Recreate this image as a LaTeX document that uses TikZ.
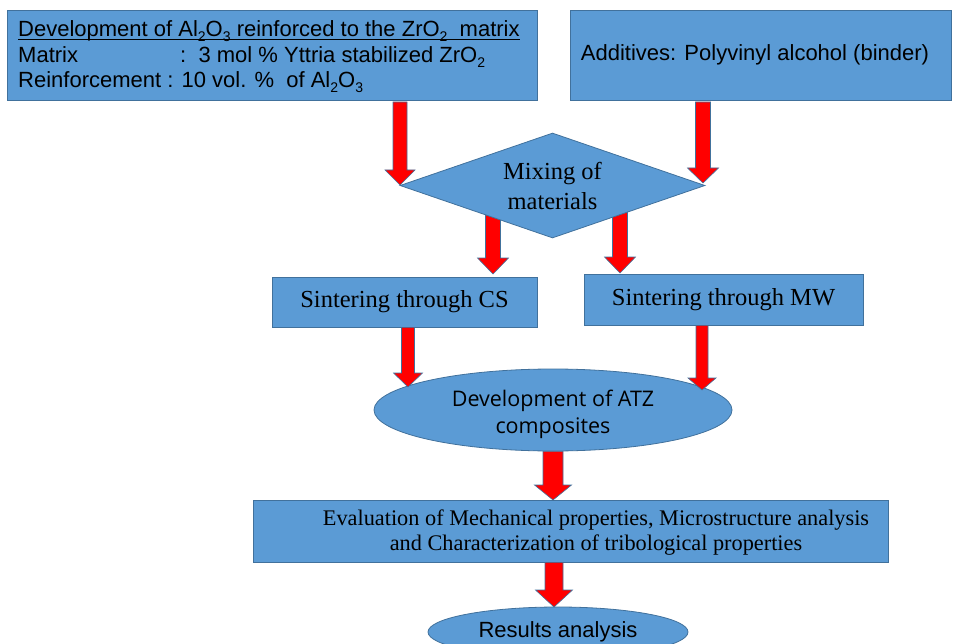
\documentclass[tikz,border=0pt]{standalone}
\usepackage{fontspec}
\setmainfont{Liberation Serif}
\newfontfamily\arialf{Liberation Sans}
\newfontfamily\osans{Open Sans}
\usetikzlibrary{shapes.geometric,calc}
\definecolor{boxblue}{HTML}{5B9BD5}
\definecolor{edgeblue}{HTML}{41719C}
\definecolor{arrred}{HTML}{FF0000}
\newcommand\sub[1]{\raisebox{-0.2em}{\fontsize{14}{14}\selectfont #1}}
\newcommand\blockarrow[5]{%
  \draw[blockarr] let \p1=(#1), \p2=(#2) in
    (\x2-#3pt,\y1) -- (\x2+#3pt,\y1) -- (\x2+#3pt,\y2+#5pt) -- (\x2+#4pt,\y2+#5pt)
    -- (\x2,\y2) -- (\x2-#4pt,\y2+#5pt) -- (\x2-#3pt,\y2+#5pt) -- cycle;}
\tikzset{
  bluebox/.style={rectangle, fill=boxblue, draw=edgeblue, line width=0.8pt, inner sep=0pt},
  blockarr/.style={fill=arrred, draw=edgeblue, line width=0.6pt, line join=miter},
  arialtxt/.style={font=\arialf\fontsize{22}{26}\selectfont, inner sep=0pt, text=black},
  serif24/.style={font=\fontsize{24.5}{30}\selectfont, text=black},
}
\begin{document}
\begin{tikzpicture}[x=1pt,y=-1pt]
\useasboundingbox (0,0) rectangle (957,644);
% coordinates for arrow ends
\coordinate (a1s) at (400,102);
\coordinate (a1t) at (400,185);
\coordinate (a2s) at (703,102);
\coordinate (a2t) at (703,183);
\coordinate (a3s) at (493,212);
\coordinate (a3t) at (493,274);
\coordinate (a4s) at (620,212);
\coordinate (a4t) at (620,273);
\coordinate (a5t) at (408,387);
\coordinate (a6t) at (702,390);
\coordinate (a7t) at (553,500);
\coordinate (a8t) at (554,607);
% arrows that start behind the diamond
\blockarrow{a3s}{a3t}{7.5}{15.5}{16}
\blockarrow{a4s}{a4t}{7.5}{15.5}{16}
% top boxes
\node[bluebox, anchor=north west, minimum width=530pt, minimum height=90pt] (b1) at (7,10) {};
\node[bluebox, anchor=north west, minimum width=381pt, minimum height=90pt] (b2) at (570,10) {};
\node[arialtxt, anchor=base west] (l1) at (18,37) {Development of Al\sub{2}O\sub{3} reinforced to the ZrO\sub{2}\ \ matrix};
\draw[line width=1.2pt] ([yshift=-2.5pt]l1.base west) -- ([yshift=-2.5pt]l1.base east);
\node[arialtxt, anchor=base west] (l2a) at (18,63) {Matrix};
\node[arialtxt, anchor=base west] (l2b) at (180,63) {:\ \ 3 mol \% Yttria stabilized ZrO\sub{2}};
\node[arialtxt, anchor=base west] (l3) at (18,88) {Reinforcement : 10 vol. \%\ \ of Al\sub{2}O\sub{3}};
\node[arialtxt] (addt) at (755,55) {Additives: Polyvinyl alcohol (binder)};
% diamond
\node[diamond, aspect=2.9, fill=boxblue, draw=edgeblue, line width=0.8pt, minimum width=305pt, minimum height=105pt, inner sep=0pt, serif24, align=center] (mix) at (552.5,185.5) {Mixing of\\materials};
% sintering boxes
\node[bluebox, minimum width=265pt, minimum height=50pt, serif24] (cs) at (404.5,302) {Sintering through CS};
\node[bluebox, minimum width=279pt, minimum height=51pt, serif24] (mw) at (723.5,299.5) {Sintering through MW};
% ATZ ellipse
\node[ellipse, fill=boxblue, draw=edgeblue, line width=0.8pt, minimum width=358pt, minimum height=82pt, inner sep=0pt] (atz) at (553,410) {};
\node[align=center, inner sep=0pt, font=\osans\fontsize{21.5}{27}\selectfont] (atzt) at (553,414) {Development of ATZ\\composites};
% evaluation box
\node[bluebox, minimum width=635pt, minimum height=62pt] (ev) at (570.5,531) {};
\node[align=center, font=\fontsize{22.3}{25}\selectfont, inner sep=0pt] (evt) at (596,533) {Evaluation of Mechanical properties, Microstructure analysis\\and Characterization of tribological properties};
% results ellipse
\node[ellipse, fill=boxblue, draw=edgeblue, line width=0.8pt, minimum width=260pt, minimum height=50pt, inner sep=0pt, font=\arialf\fontsize{22}{26}\selectfont] (res) at (558,632) {Results analysis};
% arrows
\blockarrow{a1s}{a1t}{7}{15}{15}
\blockarrow{a2s}{a2t}{7.5}{15.5}{15}
\blockarrow{cs.south -| a5t}{a5t}{6.5}{14.5}{14}
\blockarrow{mw.south -| a6t}{a6t}{6}{14}{12}
\blockarrow{atz.south -| a7t}{a7t}{10}{18.5}{15}
\blockarrow{ev.south -| a8t}{a8t}{9}{18.5}{17}
\end{tikzpicture}
\end{document}
